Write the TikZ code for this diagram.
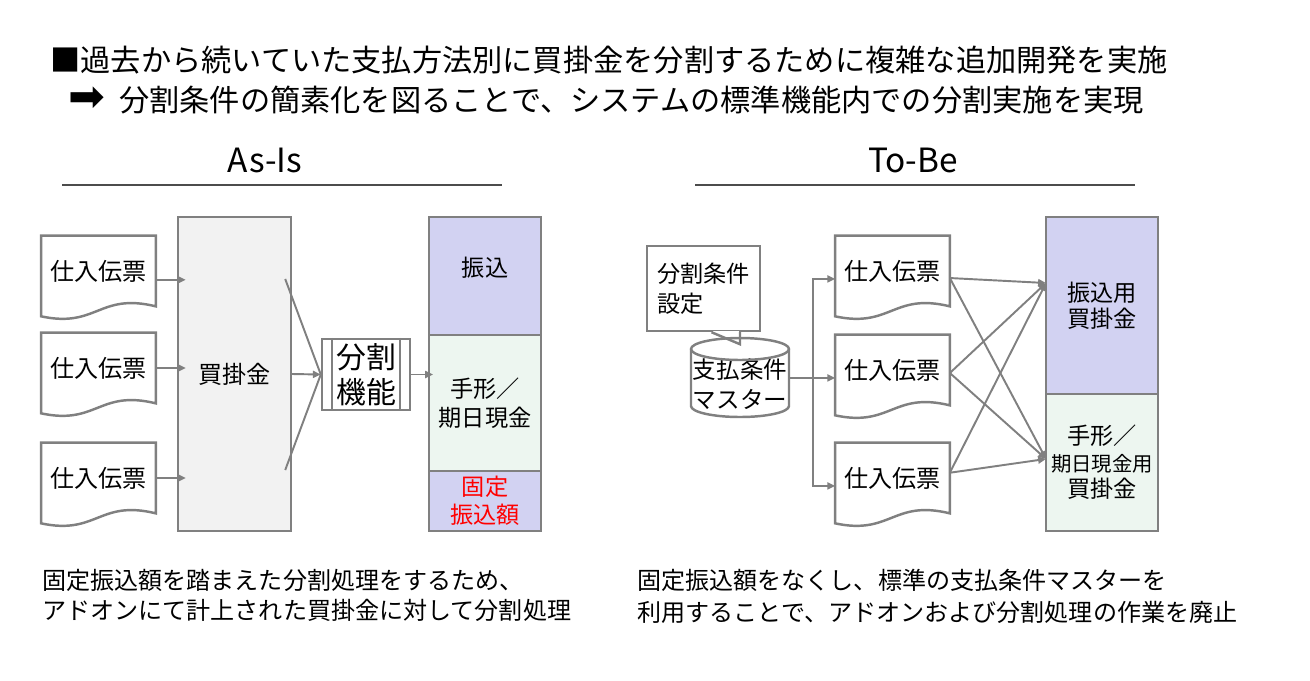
\documentclass[tikz,border=0pt]{standalone}
\usepackage{fontspec}
\setmainfont{Noto Sans CJK JP}
\newfontfamily\symfont{DejaVu Sans}
\usetikzlibrary{arrows.meta,calc,positioning}

\definecolor{linegray}{RGB}{128,128,128}
\definecolor{furiblue}{RGB}{210,210,242}
\definecolor{tegatagreen}{RGB}{237,246,240}
\definecolor{kaigray}{RGB}{242,242,242}

\begin{document}
\begin{tikzpicture}[x=0.02cm, y=-0.02cm,
	boxline/.style={draw=linegray, line width=1.4pt},
	flow/.style={draw=linegray, line width=1.1pt, -{Triangle[length=4.5pt,width=4pt]}},
	slip/.style={minimum width=2.28cm, minimum height=1.4cm, inner sep=0pt, font=\fontsize{13.7}{16}\selectfont},
	col/.style={boxline, minimum width=2.24cm, inner sep=0pt, outer sep=0pt, align=center, font=\fontsize{13.2}{16.5}\selectfont},
	note/.style={anchor=west, inner sep=0pt, align=left}]
	\useasboundingbox (0,0) rectangle (1310,680);

	% header
	\node[anchor=west, inner sep=0pt, font=\fontsize{17.2}{20}\selectfont] (head1) at (50,60)
		{■過去から続いていた支払方法別に買掛金を分割するために複雑な追加開発を実施};
	\node[anchor=west, inner sep=0pt, font=\fontsize{17.2}{20}\selectfont] (head2) at (68,100)
		{{\symfont\fontsize{25}{25}\selectfont ➡}\hspace{8pt}分割条件の簡素化を図ることで、システムの標準機能内での分割実施を実現};

	% titles
	\node[font=\fontsize{19}{22}\selectfont] (asis) at (265,160) {As-Is};
	\node[font=\fontsize{19}{22}\selectfont] (tobe) at (913,160) {To-Be};
	\draw[black!70, line width=0.6pt] (62,185) -- (502,185);
	\draw[black!70, line width=0.6pt] (695,185) -- (1135,185);

	% As-Is
	\node[slip] (a1) at (98.5,271) {仕入伝票};
	\node[slip] (a2) at (98.5,368) {仕入伝票};
	\node[slip] (a3) at (98.5,478) {仕入伝票};

	\node[boxline, fill=kaigray, minimum width=2.26cm, minimum height=6.28cm, font=\fontsize{13.7}{16}\selectfont] (buy) at (234.5,374) {買掛金};

	\node[boxline, fill=white, minimum width=1.76cm, minimum height=1.42cm, inner sep=0pt, align=center, font=\fontsize{17}{20}\selectfont] (split) at (366,374.5) {分割\\機能};
	\draw[boxline] ([xshift=0.22cm]split.north west) -- ([xshift=0.22cm]split.south west);
	\draw[boxline] ([xshift=-0.22cm]split.north east) -- ([xshift=-0.22cm]split.south east);

	\node[col, fill=furiblue, minimum height=2.36cm, text depth=11pt] (furi) at (485,276) {振込};
	\node[col, fill=tegatagreen, minimum height=2.72cm, below=0pt of furi, font=\fontsize{13.2}{16.8}\selectfont] (tegata) {手形／\\期日現金};
	\node[col, fill=furiblue, minimum height=1.2cm, below=0pt of tegata, text=red, font=\fontsize{13.2}{16}\selectfont] (kotei) {固定\\振込額};

	\foreach \d/\s in {a1/-5pt,a2/0pt,a3/0pt}
		\draw[flow] ([yshift=\s]\d.east) -- ($([yshift=\s]\d.east -| buy.west)+(9,0)$);

	\draw[boxline, line width=1.1pt] ($(buy.east)+(-7,-95)$) -- (split.west);
	\draw[boxline, line width=1.1pt] ($(buy.east)+(-7,96)$) -- (split.west);
	\draw[flow] (buy.east) -- (split.west);
	\draw[flow] (split.east) -- ($(split.east -| tegata.west)+(4,0)$);

	\node[note, font=\fontsize{13.7}{17}\selectfont] (asisnote) at (42,595)
		{固定振込額を踏まえた分割処理をするため、\\アドオンにて計上された買掛金に対して分割処理};

	% To-Be
	\node[boxline, fill=white, minimum width=2.26cm, minimum height=1.7cm, inner sep=0pt, align=left, font=\fontsize{13.2}{17}\selectfont] (cond) at (703.5,288.5) {分割条件\\設定};
	\fill[white] ($(cond.south)+(9,-1.5)$) rectangle ($(cond.south)+(35.5,1.5)$);
	\draw[boxline] ($(cond.south)+(8,0)$) -- ($(cond.south)+(36.5,12)$) -- ($(cond.south)+(36.5,0)$);

	\node[inner sep=0pt, align=center, font=\fontsize{13.4}{17}\selectfont] (mst) at (740,384) {支払条件\\マスター};
	\draw[boxline] ($(mst.center)+(-49,-35)$) -- ($(mst.center)+(-49,22)$)
		arc[start angle=180, end angle=360, x radius=0.98cm, y radius=0.22cm]
		-- ($(mst.center)+(49,-35)$)
		arc[start angle=0, end angle=180, x radius=0.98cm, y radius=0.22cm] -- cycle;
	\draw[boxline] ($(mst.center)+(-49,-35)$) arc[start angle=180, end angle=360, x radius=0.98cm, y radius=0.22cm];

	\node[slip] (b1) at (892.5,271) {仕入伝票};
	\node[slip] (b2) at (892.5,370) {仕入伝票};
	\node[slip] (b3) at (892.5,478) {仕入伝票};

	\node[col, fill=furiblue, minimum height=3.54cm, font=\fontsize{13.2}{14.8}\selectfont] (tofuri) at (1102,305.5) {振込用\\買掛金};
	\node[col, fill=tegatagreen, minimum height=2.74cm, below=0pt of tofuri, font=\fontsize{13.2}{15}\selectfont] (totegata)
		{手形／\\{\fontsize{11.6}{15}\selectfont 期日現金用}\\買掛金};

	\draw[boxline, line width=1.1pt] ($(mst.center)+(49,-6)$) -- ++(24,0) coordinate (fork);
	\foreach \d in {b1,b2,b3}
		\draw[flow] (fork) |- ([yshift=-4.5pt]\d.west);

	\coordinate (tin) at ([yshift=12.8pt]tofuri.west);
	\coordinate (bin) at ([yshift=2pt]totegata.west);
	\foreach \d/\s in {b1/-4pt,b2/-1.7pt,b3/3pt}{
		\draw[flow] ([yshift=\s]\d.east) -- (tin);
		\draw[flow] ([yshift=\s]\d.east) -- (bin);
	}

	\node[note, font=\fontsize{13.7}{18.2}\selectfont] (tobenote) at (637,596)
		{固定振込額をなくし、標準の支払条件マスターを\\利用することで、アドオンおよび分割処理の作業を廃止};

	% slip outlines
	\foreach \d in {a1,a2,a3,b1,b2,b3}
		\draw[boxline] (\d.north west) -- (\d.north east) -- (\d.south east)
			.. controls ($(\d.south east)+(-57,-14)$) and ($(\d.south west)+(56,22)$) .. ($(\d.south west)+(0,10)$) -- cycle;
\end{tikzpicture}
\end{document}
